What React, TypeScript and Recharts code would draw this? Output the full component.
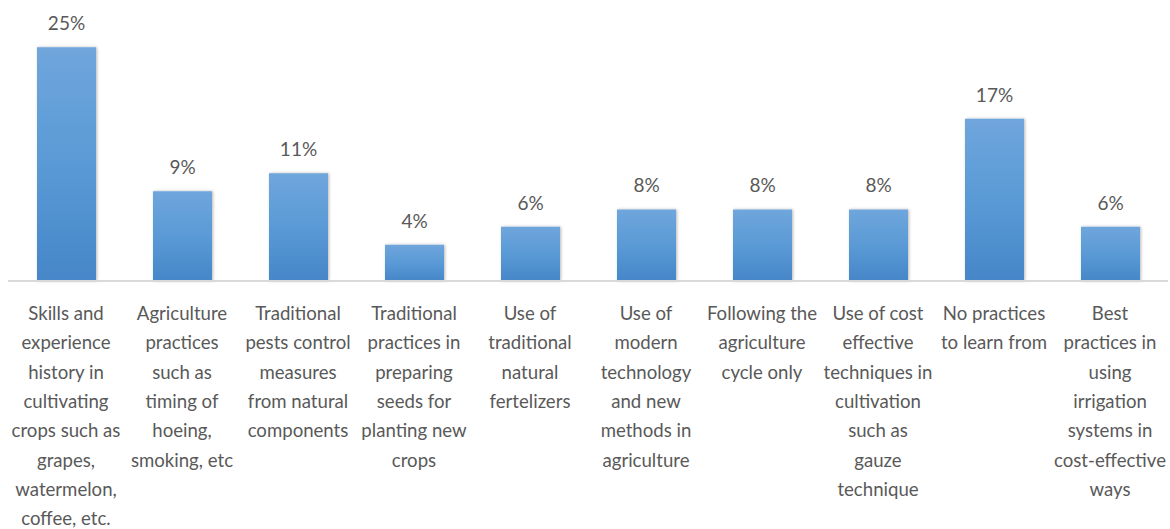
import React from "react";
import { BarChart, Bar, XAxis, YAxis, LabelList } from "recharts";

const categories: string[] = [
  "Skills and\nexperience\nhistory in\ncultivating\ncrops such as\ngrapes,\nwatermelon,\ncoffee, etc.",
  "Agriculture\npractices\nsuch as\ntiming of\nhoeing,\nsmoking, etc",
  "Traditional\npests control\nmeasures\nfrom natural\ncomponents",
  "Traditional\npractices in\npreparing\nseeds for\nplanting new\ncrops",
  "Use of\ntraditional\nnatural\nfertelizers",
  "Use of\nmodern\ntechnology\nand new\nmethods in\nagriculture",
  "Following the\nagriculture\ncycle only",
  "Use of cost\neffective\ntechniques in\ncultivation\nsuch as\ngauze\ntechnique",
  "No practices\nto learn from",
  "Best\npractices in\nusing\nirrigation\nsystems in\ncost-effective\nways",
];

const shares: number[] = [24.5, 9.4, 11.3, 3.8, 5.7, 7.5, 7.5, 7.5, 17.0, 5.7];

const data = categories.map((c, i) => ({ name: c, value: shares[i] }));

const FONT = "Lato, 'Open Sans', sans-serif";
const TEXT = "#595959";

const MultiTick = (props: any) => {
  const { x, y, payload } = props;
  const lines = String(payload.value).split("\n");
  return (
    <g>
      {lines.map((ln, i) => (
        <text
          key={i}
          x={x}
          y={y + 31 + i * 29.3}
          textAnchor="middle"
          fill={TEXT}
          fontSize={18.6}
          fontFamily={FONT}
        >
          {ln}
        </text>
      ))}
    </g>
  );
};

export default function App() {
  return (
    <div>
      <style>{`body{margin:0;overflow:hidden}svg.recharts-surface{overflow:visible}`}</style>
      <BarChart
        width={1170}
        height={529}
        data={data}
        margin={{ top: 33, right: 2, bottom: 0, left: 8 }}
        style={{ fontFamily: FONT }}
      >
        <defs>
          <linearGradient id="barGrad" x1="0" y1="0" x2="0" y2="1">
            <stop offset="0%" stopColor="#6fa6dc" />
            <stop offset="50%" stopColor="#5a9ad6" />
            <stop offset="100%" stopColor="#4686c8" />
          </linearGradient>
          <filter id="barShadow" x="-20%" y="-5%" width="140%" height="110%">
            <feDropShadow dx="1" dy="0" stdDeviation="1.6" floodColor="#000" floodOpacity="0.28" />
          </filter>
        </defs>
        <YAxis hide domain={[0, 26]} />
        <XAxis
          dataKey="name"
          interval={0}
          height={248}
          tickLine={false}
          axisLine={{ stroke: "#d9d9d9", strokeWidth: 2 }}
          tick={<MultiTick />}
        />
        <Bar
          dataKey="value"
          barSize={59}
          fill="url(#barGrad)"
          filter="url(#barShadow)"
          isAnimationActive={false}
        >
          <LabelList
            dataKey="value"
            position="top"
            offset={17}
            formatter={(v: any) => `${Math.round(Number(v))}%`}
            fill={TEXT}
            fontSize={19}
            fontFamily={FONT}
          />
        </Bar>
      </BarChart>
    </div>
  );
}
